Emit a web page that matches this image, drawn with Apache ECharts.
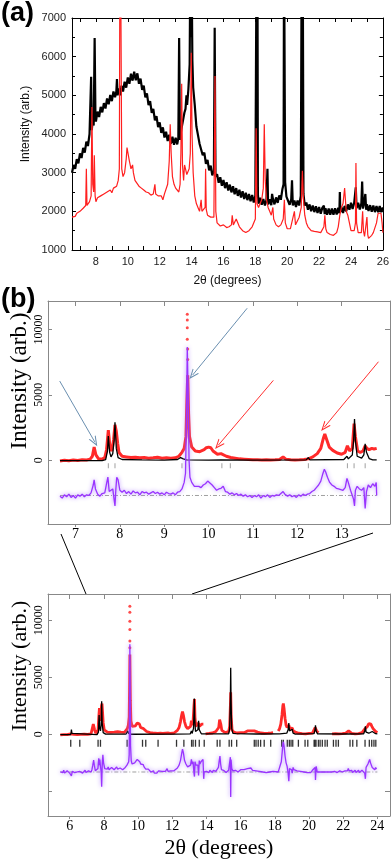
<!DOCTYPE html>
<html><head><meta charset="utf-8">
<script src="https://cdn.jsdelivr.net/npm/echarts@6/dist/echarts.min.js"></script>
<style>html,body{margin:0;padding:0;background:#fff}#c{width:392px;height:860px}</style>
</head><body><div id="c"></div><script>
// ---------- Panel (a): raw XRD patterns ----------
const aXLabels = [8,10,12,14,16,18,20,22,24,26];
const aXTicks = [7,8,9,10,11,12,13,14,15,16,17,18,19,20,21,22,23,24,25,26];
const aYLabels = [1000,2000,3000,4000,5000,6000,7000];
const aBlack = [[6.5,3000],[6.6,3200],[6.7,3100],[6.8,3350],[6.9,3240],[7.0,3500],[7.1,3380],[7.2,3640],[7.3,3520],[7.4,3800],[7.5,3690],[7.6,4000],[7.65,3950],[7.7,5480],[7.74,4100],[7.8,4350],[7.86,4220],[7.92,6480],[7.97,4450],[8.0,4320],[8.1,4580],[8.2,4440],[8.3,4700],[8.4,4560],[8.5,4800],[8.6,4660],[8.7,4920],[8.8,4770],[8.9,5010],[9.0,4850],[9.1,5100],[9.2,4950],[9.28,5100],[9.32,5420],[9.36,5000],[9.45,5180],[9.55,5000],[9.6,5250],[9.7,5100],[9.8,5350],[9.9,5200],[10.0,5460],[10.1,5300],[10.2,5560],[10.3,5380],[10.4,5610],[10.5,5390],[10.6,5570],[10.7,5300],[10.8,5430],[10.9,5140],[11.0,5250],[11.1,4950],[11.2,5050],[11.3,4750],[11.4,4850],[11.5,4550],[11.6,4650],[11.7,4350],[11.8,4460],[11.9,4180],[12.0,4300],[12.1,4030],[12.2,4170],[12.3,3910],[12.4,4060],[12.5,3820],[12.6,3980],[12.7,3750],[12.8,3930],[12.9,3720],[13.0,3900],[13.1,3730],[13.17,3900],[13.22,6480],[13.27,3850],[13.35,4100],[13.45,4100],[13.55,4550],[13.62,4650],[13.68,5000],[13.72,4750],[13.8,5150],[13.88,5800],[13.93,9000],[13.96,6500],[13.99,9000],[14.05,5900],[14.1,5200],[14.2,4750],[14.3,4200],[14.4,4150],[14.5,3750],[14.6,3780],[14.7,3450],[14.8,3520],[14.9,3230],[15.0,3330],[15.1,3060],[15.2,3180],[15.3,2930],[15.4,3050],[15.45,6750],[15.5,2900],[15.6,2960],[15.7,2740],[15.8,2880],[15.9,2660],[16.0,2810],[16.1,2600],[16.2,2750],[16.3,2540],[16.4,2690],[16.5,2490],[16.6,2650],[16.7,2440],[16.8,2600],[16.9,2400],[17.0,2560],[17.1,2360],[17.2,2520],[17.3,2320],[17.4,2480],[17.5,2290],[17.6,2450],[17.7,2260],[17.8,2420],[17.9,2230],[18.0,2400],[18.06,2450],[18.08,9000],[18.11,2600],[18.13,9000],[18.16,2450],[18.2,2200],[18.3,2350],[18.4,2170],[18.5,2320],[18.6,2150],[18.7,2300],[18.76,3100],[18.8,2180],[18.9,2310],[19.0,2160],[19.05,2450],[19.1,2330],[19.2,2180],[19.3,2360],[19.4,2220],[19.5,2410],[19.6,2300],[19.7,2580],[19.77,2700],[19.8,9000],[19.83,9000],[19.87,2750],[19.95,2380],[20.05,2380],[20.15,2170],[20.25,2310],[20.3,2800],[20.35,2150],[20.45,2280],[20.55,2110],[20.65,2280],[20.75,2150],[20.85,2400],[20.91,9000],[20.94,2800],[20.97,9000],[21.02,2450],[21.1,2150],[21.2,2230],[21.3,2040],[21.4,2180],[21.5,2000],[21.6,2150],[21.7,1980],[21.8,2130],[21.9,1960],[22.0,2110],[22.1,1940],[22.2,2090],[22.3,2150],[22.35,1930],[22.4,2080],[22.5,1910],[22.6,2070],[22.7,1910],[22.8,2070],[22.9,1910],[23.0,2080],[23.1,1920],[23.2,2090],[23.27,1950],[23.3,2500],[23.33,1980],[23.4,2110],[23.5,1960],[23.6,2140],[23.7,2000],[23.8,2180],[23.9,2040],[24.0,2220],[24.1,2060],[24.2,2220],[24.3,2620],[24.35,2080],[24.45,2220],[24.55,2050],[24.65,2210],[24.7,2770],[24.75,2070],[24.82,2200],[24.9,2450],[24.95,2040],[25.0,2180],[25.1,2010],[25.2,2160],[25.3,1990],[25.4,2150],[25.5,1980],[25.6,2140],[25.7,1980],[25.8,2140],[25.9,1980],[26.0,2100]];
const aRed = [[6.5,1850],[6.55,1800],[6.6,1900],[6.7,1870],[6.8,1950],[6.9,1920],[7.0,2000],[7.1,1980],[7.2,2080],[7.3,2050],[7.36,2150],[7.4,3100],[7.44,2150],[7.5,2100],[7.6,2250],[7.7,2400],[7.75,4700],[7.8,2700],[7.86,2500],[7.9,3450],[7.95,2400],[8.0,2250],[8.1,2350],[8.2,2300],[8.3,2400],[8.4,2380],[8.5,2450],[8.6,2400],[8.7,2500],[8.8,2450],[8.9,2550],[9.0,2480],[9.1,2600],[9.2,2550],[9.3,2650],[9.4,2800],[9.47,3100],[9.52,11000],[9.57,11000],[9.62,3100],[9.7,2900],[9.8,3000],[9.9,3350],[9.95,3650],[10.0,3700],[10.05,3600],[10.1,3300],[10.2,3100],[10.3,3200],[10.35,3000],[10.45,2800],[10.55,2750],[10.7,2650],[10.85,2600],[11.0,2550],[11.15,2500],[11.3,2480],[11.45,2420],[11.6,2450],[11.7,2700],[11.75,2450],[11.9,2400],[12.0,2350],[12.1,2400],[12.2,2300],[12.3,2450],[12.4,2500],[12.5,2700],[12.6,3300],[12.66,4250],[12.72,3500],[12.8,2900],[12.9,2700],[13.0,2600],[13.1,2550],[13.2,2500],[13.28,2700],[13.33,3500],[13.38,5300],[13.43,3200],[13.5,2800],[13.56,3200],[13.62,3100],[13.7,2950],[13.78,3000],[13.85,3100],[13.92,3500],[13.98,6100],[14.03,4000],[14.1,3000],[14.2,2400],[14.3,2200],[14.4,2100],[14.5,2000],[14.6,2300],[14.65,2000],[14.75,1950],[14.85,2100],[14.88,3100],[14.92,2050],[15.0,1900],[15.1,1950],[15.2,1850],[15.3,1800],[15.4,1850],[15.47,5500],[15.52,2000],[15.6,1700],[15.7,1650],[15.8,1620],[15.9,1600],[16.0,1650],[16.1,1600],[16.2,1580],[16.35,1600],[16.5,1650],[16.55,1900],[16.62,1650],[16.7,1700],[16.8,1800],[16.9,1750],[17.0,1600],[17.1,1550],[17.2,1500],[17.3,1480],[17.4,1450],[17.5,1470],[17.6,1500],[17.7,1550],[17.8,1600],[17.9,1650],[18.0,1800],[18.05,4150],[18.1,2200],[18.2,2100],[18.3,2050],[18.4,2300],[18.5,2600],[18.56,4250],[18.62,2800],[18.7,2300],[18.8,2100],[18.9,2000],[19.0,1900],[19.1,2100],[19.15,1800],[19.3,1650],[19.45,1600],[19.6,1650],[19.75,1800],[19.82,2300],[19.88,1700],[20.0,1550],[20.1,1500],[20.2,1550],[20.3,1600],[20.45,2000],[20.52,1650],[20.6,1700],[20.75,1850],[20.88,2100],[20.95,3050],[21.02,2300],[21.1,1900],[21.2,1700],[21.3,1600],[21.4,1550],[21.5,1500],[21.6,1520],[21.7,1480],[21.8,1500],[21.9,1470],[22.0,1500],[22.1,1450],[22.2,1480],[22.3,1600],[22.36,1900],[22.42,1550],[22.5,1450],[22.6,1420],[22.7,1400],[22.8,1430],[22.9,1380],[23.0,1400],[23.1,1450],[23.2,1600],[23.3,1900],[23.4,2100],[23.5,2200],[23.6,2600],[23.65,2300],[23.7,2000],[23.8,1900],[23.9,1700],[24.0,1500],[24.1,1450],[24.2,1500],[24.28,1700],[24.31,3250],[24.35,1700],[24.45,1450],[24.55,1400],[24.65,1450],[24.73,2000],[24.78,1500],[24.85,1350],[24.93,1400],[25.0,1850],[25.05,1400],[25.1,1300],[25.2,1320],[25.3,1380],[25.4,1450],[25.5,1500],[25.6,1700],[25.7,1950],[25.8,1900],[25.88,1950],[25.95,1700],[26.0,1450]];

// ---------- Panel (b) upper: zoomed Rietveld fit ----------
const zXLabels = [7,8,9,10,11,12,13];
const zYLabels = [0,5000,10000];
const zObs = [[6.65,-60],[6.75,0],[6.85,-40],[6.95,20],[7.05,-20],[7.15,30],[7.25,20],[7.33,80],[7.38,300],[7.42,1000],[7.46,400],[7.52,100],[7.6,80],[7.66,200],[7.7,800],[7.74,2300],[7.78,900],[7.82,700],[7.86,1600],[7.89,2700],[7.92,2200],[7.95,1300],[7.98,600],[8.05,300],[8.15,250],[8.25,200],[8.35,220],[8.45,180],[8.55,200],[8.65,150],[8.75,180],[8.85,220],[8.95,150],[9.05,180],[9.15,150],[9.25,180],[9.33,300],[9.4,600],[9.45,900],[9.49,1800],[9.51,4500],[9.53,6500],[9.55,3500],[9.57,1800],[9.62,1000],[9.7,700],[9.8,650],[9.9,800],[9.95,950],[10.0,1000],[10.05,950],[10.1,700],[10.2,450],[10.28,500],[10.32,550],[10.4,300],[10.5,200],[10.6,150],[10.7,100],[10.8,80],[10.9,60],[11.0,40],[11.1,30],[11.2,20],[11.3,30],[11.4,20],[11.5,30],[11.6,50],[11.68,250],[11.74,80],[11.85,40],[11.95,20],[12.05,30],[12.15,60],[12.25,100],[12.35,250],[12.45,500],[12.53,900],[12.59,1700],[12.62,2000],[12.66,1600],[12.72,1000],[12.8,750],[12.9,550],[13.0,450],[13.08,600],[13.13,1100],[13.18,700],[13.24,900],[13.28,2800],[13.31,1800],[13.36,700],[13.42,600],[13.48,700],[13.53,1100],[13.57,900],[13.62,800],[13.68,900],[13.73,850],[13.79,900]];
const zObsPeak = [[9.52,11150],[9.52,10720],[9.52,10130],[9.52,9240],[9.53,8500],[9.53,7700]];
const zCalc = [[6.65,-30],[7.6,-30],[7.68,50],[7.72,700],[7.74,1850],[7.77,600],[7.8,250],[7.84,500],[7.87,1500],[7.89,2900],[7.92,900],[7.96,200],[8.05,50],[8.5,20],[9.0,10],[9.3,50],[9.37,200],[9.4,350],[9.43,100],[9.5,20],[10.0,10],[10.28,30],[10.3,80],[10.32,30],[11.0,10],[12.2,20],[12.25,200],[12.28,30],[13.05,50],[13.12,300],[13.15,100],[13.24,400],[13.27,1500],[13.29,3150],[13.31,1500],[13.35,300],[13.45,150],[13.5,400],[13.53,1250],[13.56,600],[13.62,120],[13.7,30],[13.79,20]];
const zDiff = [[6.65,-2750],[6.7,-2900],[6.75,-2650],[6.8,-2800],[6.85,-2600],[6.9,-2850],[6.95,-2700],[7.0,-2900],[7.05,-2650],[7.1,-2750],[7.15,-2600],[7.2,-2800],[7.25,-2650],[7.3,-2700],[7.35,-2500],[7.4,-1900],[7.42,-1500],[7.45,-2200],[7.5,-2600],[7.55,-2750],[7.6,-2550],[7.66,-2500],[7.7,-1800],[7.73,-1300],[7.76,-2400],[7.8,-2500],[7.84,-2200],[7.87,-3000],[7.89,-3500],[7.91,-2200],[7.93,-1300],[7.96,-1500],[8.0,-2300],[8.05,-2450],[8.1,-2300],[8.15,-2550],[8.2,-2400],[8.25,-2600],[8.3,-2350],[8.35,-2500],[8.4,-2450],[8.45,-2650],[8.5,-2400],[8.55,-2500],[8.6,-2450],[8.65,-2600],[8.7,-2500],[8.75,-2400],[8.8,-2550],[8.85,-2450],[8.9,-2600],[8.95,-2500],[9.0,-2650],[9.05,-2450],[9.1,-2550],[9.15,-2600],[9.2,-2500],[9.25,-2650],[9.3,-2450],[9.35,-2400],[9.4,-2200],[9.45,-1700],[9.48,-1000],[9.5,3000],[9.52,8650],[9.54,5000],[9.56,0],[9.58,-1300],[9.62,-1700],[9.68,-2000],[9.72,-2150],[9.78,-2000],[9.83,-2100],[9.88,-1900],[9.93,-1800],[9.98,-1600],[10.03,-1750],[10.08,-1900],[10.13,-2100],[10.18,-2300],[10.23,-2200],[10.28,-2150],[10.33,-2000],[10.38,-2400],[10.43,-2450],[10.48,-2600],[10.53,-2500],[10.58,-2650],[10.63,-2550],[10.68,-2700],[10.73,-2600],[10.78,-2750],[10.83,-2650],[10.88,-2800],[10.93,-2700],[10.98,-2850],[11.03,-2700],[11.08,-2800],[11.13,-2650],[11.18,-2900],[11.23,-2700],[11.28,-2800],[11.33,-2650],[11.38,-2850],[11.43,-2700],[11.48,-2750],[11.53,-2650],[11.58,-2700],[11.63,-2550],[11.68,-2400],[11.72,-2600],[11.78,-2750],[11.83,-2650],[11.88,-2800],[11.93,-2700],[11.98,-2850],[12.03,-2650],[12.08,-2750],[12.13,-2600],[12.18,-2700],[12.23,-2600],[12.28,-2550],[12.33,-2400],[12.38,-2300],[12.43,-2100],[12.48,-1900],[12.53,-1600],[12.57,-1100],[12.61,-700],[12.64,-900],[12.68,-1300],[12.73,-1700],[12.78,-1900],[12.83,-2000],[12.88,-2150],[12.93,-2200],[12.98,-2250],[13.03,-2300],[13.08,-2100],[13.12,-1400],[13.15,-1700],[13.2,-2300],[13.24,-2200],[13.27,-3000],[13.29,-3500],[13.31,-2300],[13.35,-2000],[13.4,-2200],[13.45,-2300],[13.5,-2100],[13.53,-3700],[13.56,-2400],[13.6,-1900],[13.65,-2100],[13.7,-1800],[13.75,-2000],[13.78,-1700],[13.79,-2700]];
const zBase = [[6.65,-2700],[13.79,-2700]];
const zHkl = [7.74,7.89,9.40,10.30,10.49,12.25,13.13,13.28,13.53];
const zArrows = [
  {from:[6.644,6049], to:[7.434,1401], color:'#6a8fb0'},
  {from:[10.87,11616], to:[9.64,6508], color:'#6a8fb0'},
  {from:[11.46,6102], to:[10.22,1149], color:'#ff3030'},
  {from:[13.83,7527], to:[12.61,2527], color:'#ff3030'}
];

// ---------- Panel (b) lower: full-range Rietveld fit ----------
const fXLabels = [6,8,10,12,14,16,18,20,22,24];
const fYLabels = [0,5000,10000];
const fYTicks = [-5000,0,5000,10000];
const fObs = [[5.45,-50],[5.55,0],[5.65,-30],[5.75,20],[5.85,-20],[5.95,30],[6.05,50],[6.1,150],[6.15,40],[6.25,0],[6.35,30],[6.45,-20],[6.55,20],[6.65,0],[6.75,30],[6.85,10],[6.95,40],[7.05,0],[7.15,30],[7.25,50],[7.33,200],[7.38,900],[7.42,1050],[7.46,400],[7.52,100],[7.6,150],[7.66,400],[7.7,1500],[7.74,2300],[7.78,1200],[7.82,1500],[7.86,2500],[7.89,2700],[7.92,2000],[7.96,1000],[8.02,400],[8.1,250],[8.2,200],[8.3,250],[8.4,180],[8.5,220],[8.6,200],[8.7,150],[8.8,230],[8.9,170],[9.0,200],[9.1,150],[9.2,180],[9.3,250],[9.37,500],[9.43,800],[9.48,1500],[9.5,4000],[9.52,7000],[9.55,3000],[9.58,1200],[9.65,700],[9.75,600],[9.85,750],[9.95,1000],[10.0,1050],[10.08,900],[10.15,600],[10.25,450],[10.32,500],[10.4,350],[10.5,250],[10.6,200],[10.7,150],[10.85,120],[11.0,100],[11.15,80],[11.3,100],[11.45,80],[11.6,100],[11.7,250],[11.78,120],[11.9,80],[12.0,100],[12.1,120],[12.2,200],[12.3,350],[12.4,600],[12.48,1100],[12.55,1700],[12.6,2000],[12.65,1700],[12.72,1100],[12.8,700],[12.9,500],[13.0,450],[13.07,700],[13.12,1200],[13.17,800],[13.22,1200],[13.27,2500],[13.3,3100],[13.33,1500],[13.38,700],[13.45,650],[13.52,1000],[13.56,1100],[13.6,700],[13.66,800],[13.72,900],[13.78,950],[13.82,900],[13.88,null],[13.95,50],[14.05,100],[14.15,80],[14.25,150],[14.35,120],[14.45,200],[14.55,250],[14.65,350],[14.72,600],[14.77,1300],[14.8,1450],[14.84,900],[14.9,350],[15.0,200],[15.1,150],[15.2,150],[15.3,250],[15.36,700],[15.4,2500],[15.42,3700],[15.45,1500],[15.5,400],[15.6,200],[15.7,150],[15.8,120],[15.9,100],[16.0,150],[16.1,120],[16.2,150],[16.3,200],[16.4,300],[16.5,350],[16.6,300],[16.7,250],[16.8,300],[16.9,250],[17.0,200],[17.1,150],[17.2,120],[17.3,100],[17.4,90],[17.5,110],[17.6,100],[17.7,150],[17.8,120],[17.9,150],[18.05,null],[18.2,300],[18.28,500],[18.35,900],[18.42,1700],[18.47,2500],[18.5,2700],[18.54,2300],[18.6,1400],[18.66,800],[18.72,600],[18.78,700],[18.82,800],[18.88,500],[18.95,400],[19.02,550],[19.08,300],[19.2,200],[19.3,150],[19.4,100],[19.5,80],[19.6,60],[19.7,80],[19.8,50],[19.9,60],[20.0,80],[20.1,60],[20.2,100],[20.3,200],[20.36,600],[20.4,700],[20.45,300],[20.55,150],[21.0,null],[21.35,50],[21.45,30],[21.55,60],[21.65,40],[21.75,50],[21.85,30],[21.95,60],[22.05,50],[22.15,100],[22.25,200],[22.32,300],[22.4,150],[22.5,80],[22.6,60],[22.7,50],[22.8,80],[22.9,60],[23.0,100],[23.1,150],[23.2,300],[23.28,500],[23.35,550],[23.42,700],[23.5,950],[23.56,1050],[23.62,900],[23.68,700],[23.75,500],[23.82,350],[23.9,250],[24.0,150]];
const fObsPeak = [[9.52,11240],[9.52,10720],[9.52,9930],[9.52,9200],[9.52,8180],[9.52,7600]];
const fCalc = [[5.45,-30],[6.05,-30],[6.08,150],[6.1,420],[6.13,80],[6.2,-20],[7.6,-20],[7.68,200],[7.72,1700],[7.75,600],[7.8,300],[7.84,800],[7.87,2900],[7.9,1000],[7.96,150],[8.1,20],[9.3,30],[9.37,150],[9.4,300],[9.44,80],[9.6,10],[12.2,20],[12.25,150],[12.3,20],[13.05,40],[13.12,300],[13.16,80],[13.24,500],[13.27,1800],[13.29,3150],[13.31,1500],[13.36,250],[13.45,150],[13.5,400],[13.54,1200],[13.58,400],[13.7,50],[14.6,40],[14.63,100],[14.66,40],[15.3,50],[15.36,500],[15.4,3000],[15.42,5850],[15.44,3000],[15.48,500],[15.55,80],[15.72,60],[15.76,180],[15.8,60],[16.9,30],[17.0,50],[17.1,30],[18.3,40],[18.35,200],[18.4,60],[18.7,100],[18.78,400],[18.82,1000],[18.86,300],[18.95,150],[19.02,450],[19.07,100],[19.2,20],[20.3,60],[20.35,400],[20.38,800],[20.42,300],[20.5,40],[22.3,30],[22.35,100],[22.4,30],[23.2,50],[23.26,300],[23.3,700],[23.34,200],[23.5,100],[23.6,150],[23.7,250],[23.75,300],[23.8,150],[23.9,60],[24.0,40]];
const fDiff = [[5.45,-3300],[5.5,-3450],[5.55,-3200],[5.6,-3350],[5.65,-3150],[5.7,-3400],[5.75,-3250],[5.8,-3500],[5.85,-3200],[5.9,-3350],[5.95,-3250],[6.0,-3400],[6.05,-3300],[6.1,-3650],[6.15,-3250],[6.2,-3400],[6.25,-3200],[6.3,-3350],[6.35,-3250],[6.4,-3450],[6.45,-3300],[6.5,-3200],[6.55,-3400],[6.6,-3250],[6.65,-3350],[6.7,-3150],[6.75,-3400],[6.8,-3250],[6.85,-3300],[6.9,-3150],[6.95,-3350],[7.0,-3250],[7.05,-3400],[7.1,-3200],[7.15,-3300],[7.2,-3150],[7.25,-3300],[7.3,-3100],[7.35,-2700],[7.4,-2250],[7.44,-2700],[7.5,-3200],[7.55,-3100],[7.6,-3250],[7.65,-3000],[7.7,-2100],[7.73,-2700],[7.76,-2200],[7.8,-2800],[7.84,-3300],[7.87,-4600],[7.9,-2800],[7.94,-1800],[7.98,-2500],[8.05,-3000],[8.1,-3100],[8.15,-2900],[8.2,-3050],[8.25,-2850],[8.3,-3100],[8.35,-2950],[8.4,-3150],[8.45,-2900],[8.5,-3050],[8.55,-2900],[8.6,-3100],[8.65,-2950],[8.7,-3000],[8.75,-2850],[8.8,-3050],[8.85,-2900],[8.9,-3100],[8.95,-2950],[9.0,-3050],[9.05,-2900],[9.1,-3100],[9.15,-2950],[9.2,-3050],[9.25,-2900],[9.3,-2950],[9.35,-2700],[9.4,-2800],[9.45,-2400],[9.48,-1800],[9.5,2000],[9.52,7900],[9.54,3000],[9.56,-1000],[9.6,-2300],[9.65,-2600],[9.7,-2700],[9.75,-2650],[9.8,-2500],[9.85,-2550],[9.9,-2350],[9.95,-2200],[10.0,-2150],[10.05,-2300],[10.1,-2400],[10.15,-2600],[10.2,-2700],[10.25,-2750],[10.3,-2650],[10.35,-2850],[10.4,-2950],[10.45,-3050],[10.5,-2950],[10.55,-3150],[10.6,-3050],[10.65,-3200],[10.7,-3100],[10.75,-3300],[10.8,-3150],[10.85,-3350],[10.9,-3200],[10.95,-3400],[11.0,-3250],[11.1,-3400],[11.2,-3200],[11.3,-3350],[11.4,-3250],[11.5,-3400],[11.6,-3250],[11.7,-3000],[11.75,-3250],[11.8,-3350],[11.9,-3200],[12.0,-3350],[12.1,-3200],[12.2,-3150],[12.3,-2950],[12.4,-2700],[12.48,-2300],[12.55,-1700],[12.6,-1300],[12.65,-1600],[12.72,-2300],[12.8,-2600],[12.9,-2850],[13.0,-2900],[13.07,-2700],[13.12,-2200],[13.17,-2600],[13.22,-2400],[13.27,-3400],[13.3,-3700],[13.33,-2400],[13.38,-2700],[13.45,-2800],[13.5,-2700],[13.54,-3600],[13.58,-2300],[13.62,-2600],[13.68,-2400],[13.74,-2300],[13.8,-2200],[13.82,-2300],[13.84,-3900],[13.87,-3300],[13.95,-3300],[14.0,-3250],[14.05,-3400],[14.1,-3200],[14.15,-3350],[14.2,-3150],[14.25,-3300],[14.3,-3200],[14.35,-3350],[14.4,-3150],[14.45,-3300],[14.5,-3200],[14.55,-3250],[14.6,-3100],[14.65,-3250],[14.7,-2900],[14.75,-2300],[14.79,-1900],[14.83,-2600],[14.88,-3100],[14.95,-3250],[15.0,-3150],[15.05,-3300],[15.1,-3200],[15.15,-3350],[15.2,-3200],[15.25,-3300],[15.3,-3150],[15.36,-3000],[15.4,-2000],[15.42,-5500],[15.44,-2200],[15.48,-3000],[15.55,-3200],[15.6,-3100],[15.65,-3250],[15.7,-3150],[15.75,-3300],[15.8,-3150],[15.85,-3300],[15.9,-3150],[15.95,-3250],[16.0,-3100],[16.1,-3250],[16.2,-3100],[16.3,-3200],[16.4,-3000],[16.5,-3100],[16.6,-2950],[16.7,-3150],[16.8,-3000],[16.9,-3200],[17.0,-3100],[17.1,-3250],[17.2,-3150],[17.3,-3300],[17.4,-3200],[17.5,-3350],[17.6,-3200],[17.7,-3300],[17.8,-3150],[17.9,-3250],[18.2,-3300],[18.25,-3050],[18.3,-2800],[18.38,-2400],[18.43,-1600],[18.47,-900],[18.5,-650],[18.54,-1000],[18.6,-1900],[18.66,-2500],[18.72,-2800],[18.78,-3400],[18.82,-4100],[18.86,-3000],[18.92,-2900],[18.98,-3100],[19.02,-3400],[19.07,-2900],[19.12,-3100],[19.2,-3000],[19.3,-3200],[19.4,-3050],[19.5,-3250],[19.6,-3100],[19.7,-3300],[19.8,-3150],[19.9,-3350],[20.0,-3200],[20.1,-3350],[20.2,-3150],[20.3,-3200],[20.36,-2900],[20.38,-4000],[20.42,-2800],[20.48,-3300],[20.55,-3250],[21.35,-3300],[21.4,-3200],[21.45,-3400],[21.5,-3250],[21.55,-3350],[21.6,-3150],[21.65,-3350],[21.7,-3250],[21.75,-3400],[21.8,-3200],[21.85,-3350],[21.9,-3200],[21.95,-3300],[22.0,-3150],[22.05,-3350],[22.1,-3200],[22.15,-3300],[22.2,-3100],[22.25,-3200],[22.3,-3000],[22.35,-3200],[22.4,-3100],[22.45,-3300],[22.5,-3150],[22.55,-3350],[22.6,-3200],[22.65,-3300],[22.7,-3150],[22.75,-3350],[22.8,-3200],[22.85,-3300],[22.9,-3150],[22.95,-3350],[23.0,-3200],[23.05,-3300],[23.1,-3150],[23.15,-3250],[23.2,-3050],[23.26,-3400],[23.3,-3900],[23.34,-2900],[23.4,-2800],[23.45,-2600],[23.5,-2400],[23.55,-2200],[23.6,-2500],[23.65,-2600],[23.7,-2900],[23.75,-3000],[23.8,-2800],[23.85,-3100],[23.9,-2900],[23.95,-3050],[24.0,-2950]];
const fBase = [[5.45,-3300],[24.0,-3300]];
const fHkl = [6.06,6.59,7.66,7.80,9.36,10.26,10.45,11.17,12.25,12.68,13.13,13.22,13.36,13.58,13.87,14.63,14.79,15.33,15.47,15.77,16.80,16.90,17.03,17.17,17.38,17.76,18.40,18.50,18.73,18.85,18.95,19.05,19.38,19.77,19.93,20.30,20.35,20.41,20.55,20.65,20.78,20.94,21.07,21.43,21.58,21.72,22.40,22.56,22.80,23.28,23.53,23.67,23.80,23.91];

const SANS = '"Liberation Sans", Arial, sans-serif';
const SERIF = '"Liberation Serif", "Times New Roman", serif';
const RED = '#ff1f1f';
const OBSRED = '#ff2a2a';
const PURPLE = '#9933ff';
const plain = v => String(v);

const grids = [
  {left:72, top:18, width:313, height:232},
  {left:48, top:301, width:342, height:223},
  {left:48, top:594, width:342, height:223}
];

function axisCommon(color){ return {axisLine:{show:true,onZero:false,lineStyle:{color:color,width:1}}, splitLine:{show:false}}; }

const xAxes = [
  Object.assign({type:'value', gridIndex:0, position:'bottom', min:6.5, max:26,
    axisTick:{inside:true, length:4, customValues:aXTicks, lineStyle:{color:'#000'}},
    axisLabel:{customValues:aXLabels, formatter:plain, fontFamily:SANS, fontSize:11, color:'#222', margin:6},
    name:'2θ (degrees)', nameLocation:'middle', nameGap:25, nameTextStyle:{fontFamily:SANS, fontSize:12, color:'#111'}}, axisCommon('#000')),
  Object.assign({type:'value', gridIndex:0, position:'top', min:6.5, max:26,
    axisTick:{inside:true, length:4, customValues:aXTicks, lineStyle:{color:'#000'}}, axisLabel:{show:false}}, axisCommon('#000')),
  Object.assign({type:'value', gridIndex:1, position:'bottom', min:6.38, max:14.09,
    axisTick:{inside:false, length:3, customValues:zXLabels, lineStyle:{color:'#888'}},
    axisLabel:{customValues:zXLabels, formatter:plain, fontFamily:SERIF, fontSize:14, color:'#000', margin:3}}, axisCommon('#888')),
  Object.assign({type:'value', gridIndex:1, position:'top', min:6.38, max:14.09,
    axisTick:{inside:true, length:5, customValues:zXLabels, lineStyle:{color:'#888'}}, axisLabel:{show:false}}, axisCommon('#888')),
  Object.assign({type:'value', gridIndex:2, position:'bottom', min:4.73, max:24.74,
    axisTick:{inside:false, length:3, customValues:fXLabels, lineStyle:{color:'#888'}},
    axisLabel:{customValues:fXLabels, formatter:plain, fontFamily:SERIF, fontSize:14, color:'#000', margin:3},
    name:'2θ (degrees)', nameLocation:'middle', nameGap:21, nameTextStyle:{fontFamily:SERIF, fontSize:22, color:'#000'}}, axisCommon('#888')),
  Object.assign({type:'value', gridIndex:2, position:'top', min:4.73, max:24.74,
    axisTick:{inside:true, length:5, customValues:fXLabels, lineStyle:{color:'#888'}}, axisLabel:{show:false}}, axisCommon('#888'))
];
const yAxes = [
  Object.assign({type:'value', gridIndex:0, position:'left', min:1000, max:7000, interval:1000,
    axisTick:{inside:true, length:4, lineStyle:{color:'#000'}},
    minorTick:{show:true, splitNumber:2, length:3, lineStyle:{color:'#000'}},
    axisLabel:{customValues:aYLabels, formatter:plain, fontFamily:SANS, fontSize:11, color:'#222', margin:6}}, axisCommon('#000')),
  Object.assign({type:'value', gridIndex:0, position:'right', min:1000, max:7000, interval:1000,
    axisTick:{inside:true, length:4, lineStyle:{color:'#000'}},
    minorTick:{show:true, splitNumber:2, length:3, lineStyle:{color:'#000'}},
    axisLabel:{show:false}}, axisCommon('#000')),
  Object.assign({type:'value', gridIndex:1, position:'left', min:-4880, max:12170,
    axisTick:{inside:true, length:4, customValues:zYLabels, lineStyle:{color:'#888'}},
    axisLabel:{customValues:zYLabels, formatter:plain, rotate:90, fontFamily:SERIF, fontSize:12, color:'#000', margin:3}}, axisCommon('#888')),
  Object.assign({type:'value', gridIndex:1, position:'right', min:-4880, max:12170,
    axisTick:{inside:true, length:5, customValues:zYLabels, lineStyle:{color:'#888'}}, axisLabel:{show:false}}, axisCommon('#888')),
  Object.assign({type:'value', gridIndex:2, position:'left', min:-7160, max:12310,
    axisTick:{inside:true, length:4, customValues:fYTicks, lineStyle:{color:'#888'}},
    axisLabel:{customValues:fYLabels, formatter:plain, rotate:90, fontFamily:SERIF, fontSize:12, color:'#000', margin:3}}, axisCommon('#888')),
  Object.assign({type:'value', gridIndex:2, position:'right', min:-7160, max:12310,
    axisTick:{inside:true, length:5, customValues:fYTicks, lineStyle:{color:'#888'}}, axisLabel:{show:false}}, axisCommon('#888'))
];

function line(data, xi, yi, color, width, extra){
  return Object.assign({type:'line', data:data, xAxisIndex:xi, yAxisIndex:yi, showSymbol:false, symbol:'none',
    lineStyle:{color:color, width:width}, itemStyle:{color:color}, silent:true, animation:false, connectNulls:false}, extra||{});
}
function dots(data, xi, yi, color, size){
  return {type:'scatter', data:data, xAxisIndex:xi, yAxisIndex:yi, symbol:'circle', symbolSize:size,
    itemStyle:{color:color}, silent:true, animation:false};
}
function hkl(vals, y, xi, yi, color, size){
  return {type:'scatter', data:vals.map(v=>[v,y]), xAxisIndex:xi, yAxisIndex:yi, symbol:'rect', symbolSize:size,
    itemStyle:{color:color}, silent:true, animation:false};
}
const ARROWHEAD = 'path://M0,10 L5,0 L10,10 L8.6,10 L5,2.8 L1.4,10 Z';

const purpleStyle = {lineStyle:{color:PURPLE, width:1.3, shadowColor:'rgba(170,120,255,0.9)', shadowBlur:4}, z:4};

const series = [
  line(aBlack, 0, 0, '#000', 2.2, {lineStyle:{color:'#000', width:2.2, join:'bevel'}}),
  line(aRed, 0, 0, RED, 1.2),
  // zoomed panel
  line(zObs, 2, 2, OBSRED, 3, {markLine:{silent:true, animation:false, symbol:['none', ARROWHEAD], symbolSize:[8,10],
    label:{show:false},
    data: zArrows.map(a=>[{coord:a.from, lineStyle:{color:a.color, width:1, type:'solid'}},{coord:a.to}])}}),
  dots(zObsPeak, 2, 2, RED, 3),
  line(zCalc, 2, 2, '#000', 1.3, {z:3}),
  line(zBase, 2, 2, '#888', 0.8, {lineStyle:{color:'#888', width:0.8, type:[4,2,1,2]}}),
  line(zDiff, 2, 2, PURPLE, 1.3, purpleStyle),
  hkl(zHkl, -420, 2, 2, '#888', [1,5]),
  // full panel
  line(fObs, 4, 4, OBSRED, 2.8),
  dots(fObsPeak, 4, 4, RED, 3),
  line(fCalc, 4, 4, '#000', 1.3, {z:3}),
  line(fBase, 4, 4, '#888', 0.8, {lineStyle:{color:'#888', width:0.8, type:[4,2,1,2]}}),
  line(fDiff, 4, 4, PURPLE, 1.3, purpleStyle),
  hkl(fHkl, -780, 4, 4, '#000', [1.3,7])
];

const graphic = [
  {type:'text', left:1, top:0, style:{text:'(a)', font:'bold 27px ' + SANS, fill:'#000'}},
  {type:'text', left:1, top:286, style:{text:'(b)', font:'bold 27px ' + SANS, fill:'#000'}},
  {type:'text', x:26, y:124, rotation:Math.PI/2, style:{text:'Intensity (arb.)', font:'12px ' + SANS, fill:'#111', align:'center', verticalAlign:'middle'}},
  {type:'text', x:20, y:381, rotation:Math.PI/2, style:{text:'Intensity (arb.)', font:'23px ' + SERIF, fill:'#000', align:'center', verticalAlign:'middle'}},
  {type:'text', x:20, y:666, rotation:Math.PI/2, style:{text:'Intensity (arb.)', font:'22px ' + SERIF, fill:'#000', align:'center', verticalAlign:'middle'}},
  {type:'line', shape:{x1:61, y1:534, x2:86, y2:594}, style:{stroke:'#000', lineWidth:1}},
  {type:'line', shape:{x1:373, y1:533, x2:192, y2:594}, style:{stroke:'#000', lineWidth:1}}
];

const chart = echarts.init(document.getElementById('c'), null, {renderer:'canvas'});
chart.setOption({
  animation:false,
  backgroundColor:'#fff',
  grid: grids.map(g=>Object.assign({containLabel:false, show:false}, g)),
  xAxis: xAxes,
  yAxis: yAxes,
  series: series,
  graphic: graphic
});
</script></body></html>
